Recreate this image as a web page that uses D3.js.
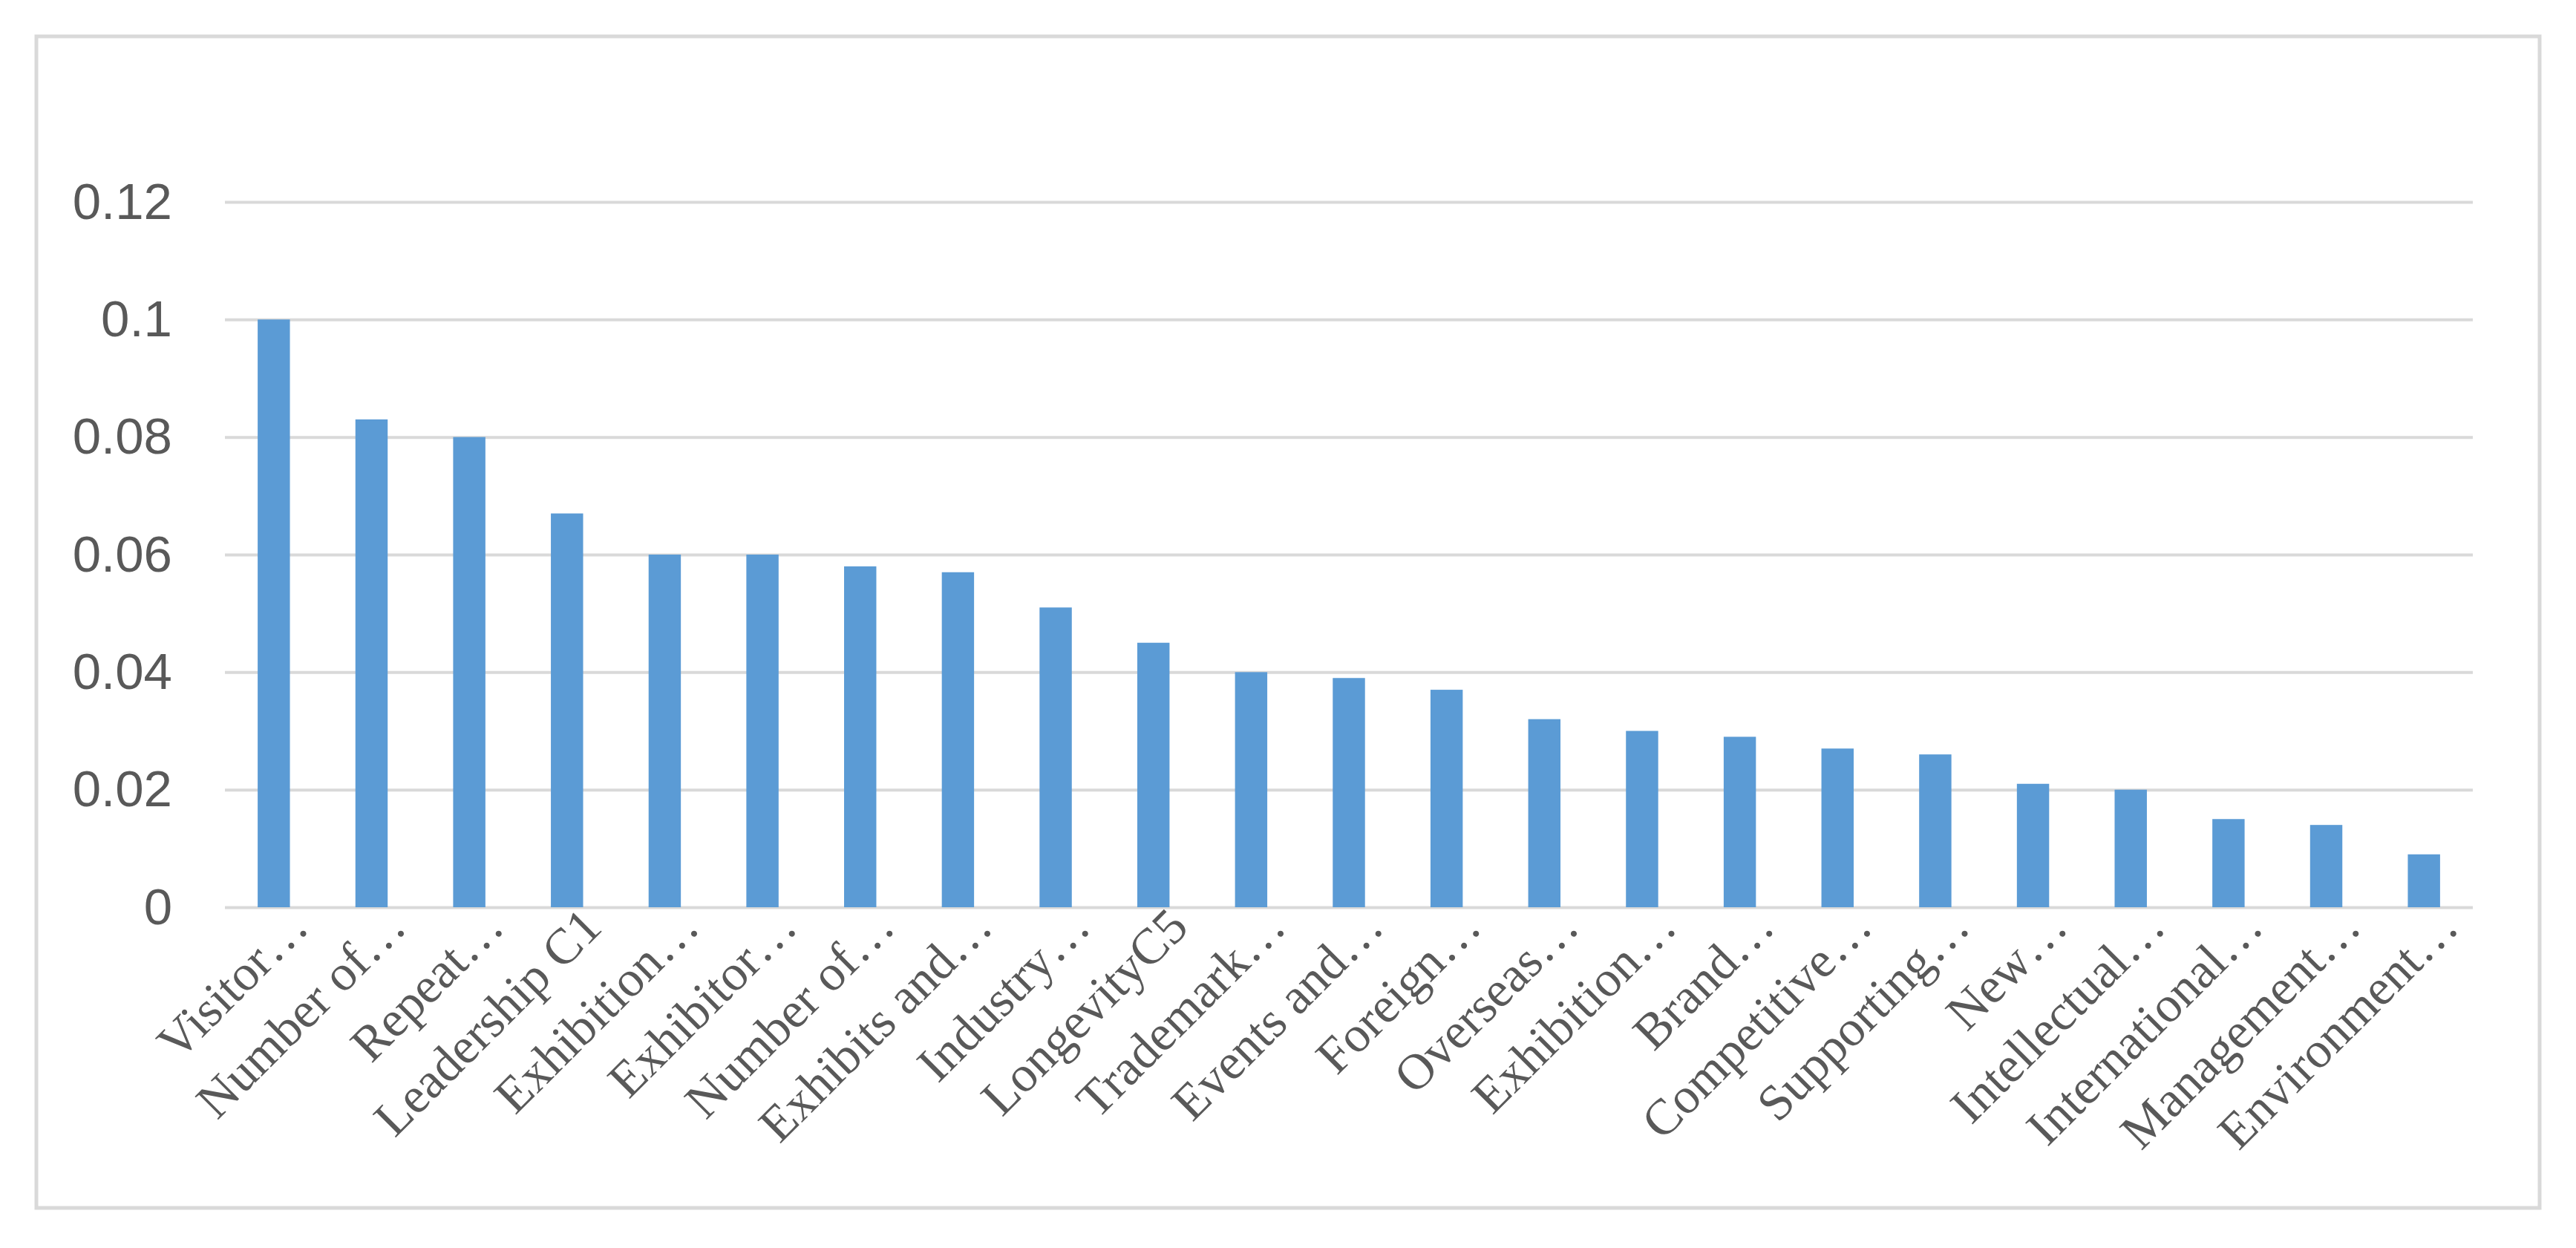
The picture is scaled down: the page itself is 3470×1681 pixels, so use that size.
<!DOCTYPE html>
<html><head><meta charset="utf-8">
<script src="https://cdn.jsdelivr.net/npm/d3@7"></script>
<style>body{margin:0;background:#fff}</style></head>
<body><svg id="c" width="3470" height="1681"></svg>
<script>
const categories=["Visitor…","Number of…","Repeat…","Leadership C1","Exhibition…","Exhibitor…","Number of…","Exhibits and…","Industry…","LongevityC5","Trademark…","Events and…","Foreign…","Overseas…","Exhibition…","Brand…","Competitive…","Supporting…","New…","Intellectual…","International…","Management…","Environment…"];
const values=[0.1,0.083,0.08,0.067,0.06,0.06,0.058,0.057,0.051,0.045,0.04,0.039,0.037,0.032,0.03,0.029,0.027,0.026,0.021,0.02,0.015,0.014,0.009];
const yTicks=[0,0.02,0.04,0.06,0.08,0.1,0.12];
const yTickLabels=["0","0.02","0.04","0.06","0.08","0.1","0.12"];

const svg=d3.select("#c");
svg.append("rect").attr("x",49).attr("y",49).attr("width",3372).attr("height",1578)
  .attr("fill","#fff").attr("stroke","#d9d9d9").attr("stroke-width",5);
const L=303,R=3331,T=272,B=1222;
const x=d3.scaleBand().domain(d3.range(categories.length)).range([L,R]).paddingInner(0.67).paddingOuter(0.335);
const y=d3.scaleLinear().domain([0,0.12]).range([B,T]);

const yAx=svg.append("g").attr("transform",`translate(${L},0)`)
  .call(d3.axisLeft(y).tickValues(yTicks).tickFormat((d,i)=>yTickLabels[i]).tickSize(-(R-L)).tickPadding(71));
yAx.select(".domain").remove();
yAx.selectAll("line").attr("stroke","#d9d9d9").attr("stroke-width",4);
yAx.selectAll("text").attr("fill","#595959").attr("font-family","Liberation Sans, Arial, sans-serif").attr("font-size",69);

svg.append("g").selectAll("rect").data(values).join("rect")
  .attr("x",(d,i)=>x(i)).attr("width",x.bandwidth())
  .attr("y",d=>y(d)).attr("height",d=>B-y(d)).attr("fill","#5b9bd5");

const xAx=svg.append("g").attr("transform",`translate(0,${B})`)
  .call(d3.axisBottom(x).tickFormat(i=>categories[i]).tickSize(0));
xAx.select(".domain").remove();
xAx.selectAll("text").attr("fill","#595959").attr("font-family","Liberation Serif, Times New Roman, serif")
  .attr("font-size",68).attr("text-anchor","end").attr("dy",0)
  .attr("transform",d=>`translate(${x.bandwidth()/2+28},30) rotate(-45)`).attr("y",0).attr("x",0);
</script></body></html>
